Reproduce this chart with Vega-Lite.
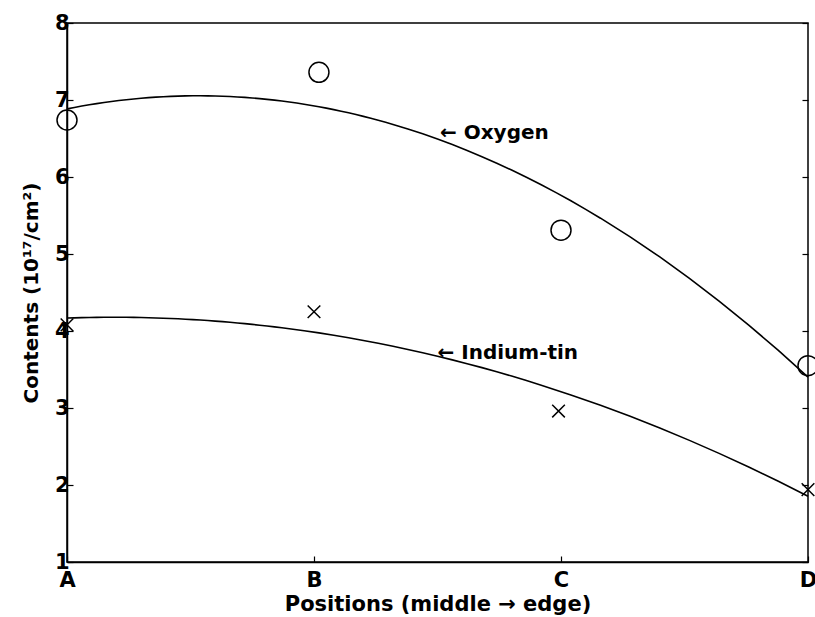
{
  "$schema": "https://vega.github.io/schema/vega-lite/v6.json",
  "width": 741,
  "height": 539,
  "autosize": "none",
  "padding": {"left": 67, "top": 23, "right": 7, "bottom": 55},
  "background": "white",
  "config": {
    "view": {"stroke": "black", "strokeWidth": 1.5},
    "axis": {
      "grid": false,
      "domainColor": "black",
      "domainWidth": 1.5,
      "tickColor": "black",
      "tickWidth": 1.2,
      "tickSize": -6,
      "labelFont": "DejaVu Sans",
      "labelFontWeight": "bold",
      "labelFontSize": 21,
      "labelColor": "black",
      "titleFont": "DejaVu Sans",
      "titleFontWeight": "bold",
      "titleFontSize": 21,
      "titleColor": "black"
    }
  },
  "datasets": {
    "points": [
      {"series": "Oxygen", "pos": 0, "value": 6.74},
      {"series": "Oxygen", "pos": 1.02, "value": 7.36},
      {"series": "Oxygen", "pos": 2, "value": 5.31},
      {"series": "Oxygen", "pos": 3, "value": 3.55},
      {"series": "Indium-tin", "pos": 0, "value": 4.08},
      {"series": "Indium-tin", "pos": 1, "value": 4.25},
      {"series": "Indium-tin", "pos": 1.99, "value": 2.96},
      {"series": "Indium-tin", "pos": 3, "value": 1.94}
    ],
    "labels": [
      {"label": "← Oxygen", "pos": 1.51, "value": 6.57},
      {"label": "← Indium-tin", "pos": 1.5, "value": 3.71}
    ]
  },
  "resolve": {"axis": {"y": "independent"}},
  "layer": [
    {
      "data": {"name": "points"},
      "transform": [
        {"regression": "value", "on": "pos", "groupby": ["series"], "method": "poly", "order": 2, "extent": [0, 3]}
      ],
      "mark": {"type": "line", "color": "black", "strokeWidth": 1.6},
      "encoding": {
        "x": {
          "field": "pos", "type": "quantitative",
          "scale": {"domain": [0, 3], "nice": false, "zero": false},
          "axis": {
            "values": [0, 1, 2, 3],
            "labelExpr": "['A','B','C','D'][datum.value]",
            "labelPadding": 13,
            "labelFlush": false,
            "title": "Positions (middle → edge)",
            "titlePadding": 3
          }
        },
        "y": {
          "field": "value", "type": "quantitative",
          "scale": {"domain": [1, 8], "nice": false, "zero": false},
          "axis": {
            "values": [1, 2, 3, 4, 5, 6, 7, 8],
            "labelPadding": 4,
            "title": "Contents (10¹⁷/cm²)",
            "titleFontSize": 20,
            "titlePadding": 13
          }
        },
        "detail": {"field": "series"}
      }
    },
    {
      "data": {"name": "points"},
      "transform": [{"filter": "datum.series == 'Oxygen'"}],
      "mark": {"type": "point", "shape": "circle", "filled": false, "color": "black", "strokeWidth": 1.5, "size": 400, "opacity": 1},
      "encoding": {
        "x": {"field": "pos", "type": "quantitative"},
        "y": {
          "field": "value", "type": "quantitative",
          "axis": {"orient": "right", "values": [1, 2, 3, 4, 5, 6, 7, 8], "labels": false, "domain": false, "title": null}
        }
      }
    },
    {
      "data": {"name": "points"},
      "transform": [{"filter": "datum.series == 'Indium-tin'"}],
      "mark": {"type": "point", "shape": "M-1,-1L1,1M-1,1L1,-1", "filled": false, "color": "black", "strokeWidth": 1.5, "size": 160, "opacity": 1},
      "encoding": {
        "x": {"field": "pos", "type": "quantitative"},
        "y": {"field": "value", "type": "quantitative", "axis": null}
      }
    },
    {
      "data": {"name": "labels"},
      "mark": {"type": "text", "align": "left", "baseline": "middle", "font": "DejaVu Sans", "fontWeight": "bold", "fontSize": 20, "color": "black"},
      "encoding": {
        "x": {"field": "pos", "type": "quantitative"},
        "y": {"field": "value", "type": "quantitative", "axis": null},
        "text": {"field": "label"}
      }
    }
  ]
}
